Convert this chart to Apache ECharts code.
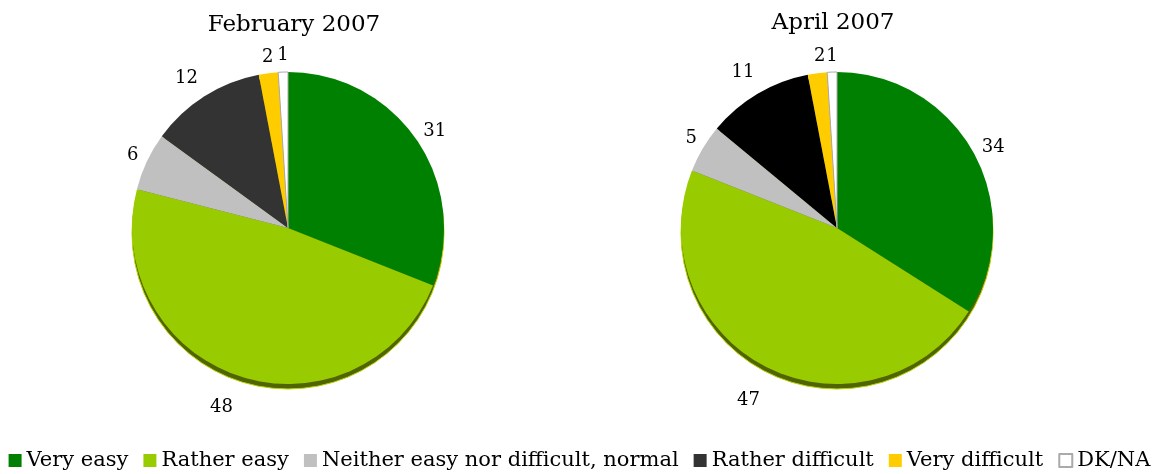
<!DOCTYPE html>
<html><head><meta charset="utf-8">
<script src="https://cdn.jsdelivr.net/npm/echarts@6/dist/echarts.min.js"></script>
<style>html,body{margin:0;padding:0;background:#fff}#c{width:1159px;height:474px}</style>
</head><body><div id="c"></div>
<script>
const categories = ['Very easy','Rather easy','Neither easy nor difficult, normal','Rather difficult','Very difficult','DK/NA'];
const febValues = [31, 48, 6, 12, 2, 1];
const aprValues = [34, 47, 5, 11, 2, 1];
const titles = ['February 2007', 'April 2007'];

// layout-only nudges of the value labels (pixels), not data
const febLabelNudge = [[-12,0],[3,16],[11,1],[7,-4],[12,0],[11,-1]];
const aprLabelNudge = [[-11,2],[6,19],[13,-2],[10,-8],[15,-1],[11,0]];

const colorsFeb = ['#008000','#99CC00','#C0C0C0','#333333','#FFCC00','#FFFFFF'];
const colorsApr = ['#008000','#99CC00','#C0C0C0','#000000','#FFCC00','#FFFFFF'];
const FONT = 'DejaVu Serif';
const R = 156;

function mkData(vals, cols, nudge){
  return vals.map((v,i)=>({name:categories[i], value:v,
    label:{offset:nudge[i]},
    itemStyle: i===5 ? {color:cols[i], borderColor:'#aaa', borderWidth:1} : {color:cols[i]}}));
}
function shadowSeries(cx, cy){
  return {type:'pie', silent:true, center:[cx, cy+5], radius:R, startAngle:90,
    label:{show:false}, labelLine:{show:false}, legendHoverLink:false,
    itemStyle:{borderColor:'#b5d400', borderWidth:1},
    data:[{name:'_shadow', value:1, itemStyle:{color:'#506400'}}], z:1};
}
function mainSeries(cx, cy, vals, cols, nudge){
  return {type:'pie', center:[cx, cy], radius:R, startAngle:90, clockwise:true,
    avoidLabelOverlap:false, z:2,
    label:{show:true, position:'outside', formatter:'{c}', fontFamily:FONT, fontSize:18, color:'#000'},
    labelLine:{show:false, length:16, length2:0},
    labelLayout:{hideOverlap:false},
    emphasis:{scale:false},
    data:mkData(vals, cols, nudge)};
}
const chart = echarts.init(document.getElementById('c'));
chart.setOption({
  animation:false,
  title:[
    {text:titles[0], left:289, top:9, textAlign:'center', textStyle:{fontFamily:FONT, fontSize:23, fontWeight:'normal', color:'#000'}},
    {text:titles[1], left:828, top:7, textAlign:'center', textStyle:{fontFamily:FONT, fontSize:23, fontWeight:'normal', color:'#000'}}
  ],
  legend:{
    data:categories, bottom:-2, left:'center', icon:'rect', itemWidth:13, itemHeight:13, itemGap:15, itemStyle:{},
    textStyle:{fontFamily:FONT, fontSize:21, color:'#000'}
  },
  series:[
    shadowSeries(288, 228),
    mainSeries(288, 228, febValues, colorsFeb, febLabelNudge),
    shadowSeries(837, 228),
    mainSeries(837, 228, aprValues, colorsApr, aprLabelNudge)
  ]
});
</script></body></html>
